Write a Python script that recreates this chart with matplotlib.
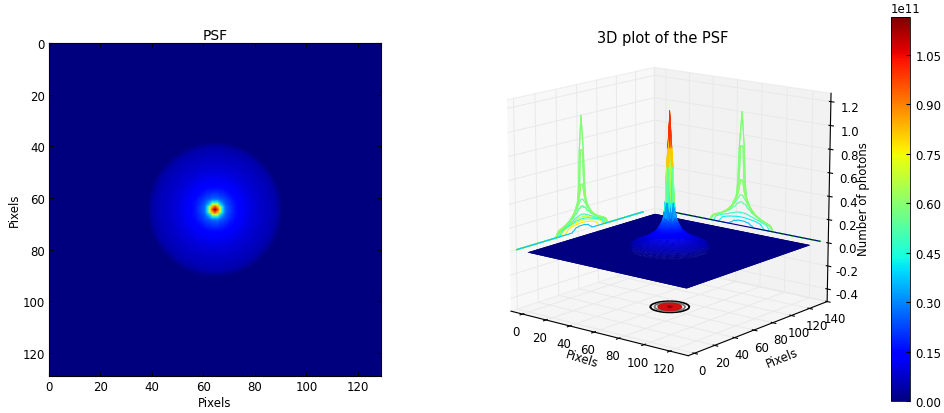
import numpy as np
import matplotlib
matplotlib.use("Agg")
from matplotlib import pyplot as plt
from matplotlib.ticker import FuncFormatter

# radial profile of the PSF, one value per half pixel of radius (units of 1e11 photons)
psf_profile = [1.165, 1.10, 1.00, 0.85, 0.70, 0.53, 0.40, 0.32, 0.27, 0.25,
               0.235, 0.22, 0.21, 0.195, 0.185, 0.175, 0.163, 0.156, 0.15, 0.144,
               0.138, 0.132, 0.126, 0.12, 0.116, 0.113, 0.108, 0.104, 0.10, 0.097,
               0.094, 0.09, 0.086, 0.083, 0.08, 0.078, 0.076, 0.073, 0.071, 0.068,
               0.066, 0.064, 0.061, 0.059, 0.056, 0.054, 0.051, 0.048, 0.043, 0.036,
               0.026, 0.014, 0.0]
n_pixels = 129
center = 64

pixel_ticks = [0, 20, 40, 60, 80, 100, 120]
y3d_ticks = [0, 20, 40, 60, 80, 100, 120, 140]
z_ticks = [-0.4, -0.2, 0.0, 0.2, 0.4, 0.6, 0.8, 1.0, 1.2]
cbar_ticks = [0.0, 0.15, 0.30, 0.45, 0.60, 0.75, 0.90, 1.05]

left_hump_levels = [70.01, 76.01, 80.01, 84.01]
left_peak_levels = [50.01, 54.01, 58.01, 60.01, 61.01, 62.01, 63.01, 65.01, 66.01, 67.01]
left_base_level = [40.01]
right_hump_levels = [40.01, 46.01, 52.01]
right_peak_levels = [58.01, 60.01, 61.01, 62.01, 63.01, 65.01, 66.01, 67.01]
right_base_level = [0.01]
floor_levels = [0.113, 0.14, 0.175, 0.19, 0.21, 0.24, 0.28, 0.33, 0.4, 0.5, 0.6, 0.75, 0.9, 1.05]
floor_colors = ["black", "0.45", "#c01010", "#c81010", "#d01010", "#d01010", "#d01010",
                "#d01010", "#d01010", "#d01010", "#d01010", "#c01010", "#b00000", "#900000"]

plt.rcParams["font.family"] = "DejaVu Sans"
plt.rcParams["font.size"] = 8.5
plt.rcParams["xtick.direction"] = "in"
plt.rcParams["ytick.direction"] = "in"

xs = np.arange(n_pixels)
X, Y = np.meshgrid(xs, xs)
radius = np.rint(2 * np.hypot(X - center, Y - center)).astype(int)
radius = np.minimum(radius, len(psf_profile) - 1)
Z = np.array(psf_profile)[radius]
vmax = max(psf_profile)

fig = plt.figure(figsize=(9.45, 4.14), dpi=100)

# left image
ax = fig.add_axes([49 / 945, 1 - 377 / 414, 332 / 945, 333 / 414])
im = ax.imshow(Z * 1e11, cmap="jet", vmin=0, vmax=vmax * 1e11, interpolation="bilinear",
               extent=(0, n_pixels, n_pixels, 0), aspect="auto")
ax.set_xticks(pixel_ticks)
ax.set_yticks(pixel_ticks)
ax.tick_params(top=True, right=True, length=3, pad=3)
ax.set_title("PSF", fontsize=10, pad=3)
ax.set_xlabel("Pixels", labelpad=2)
ax.set_ylabel("Pixels", labelpad=1)

# 3D plot
ax3 = fig.add_axes([450 / 945, 1 - 404 / 414, 430 / 945, 390 / 414], projection="3d",
                   computed_zorder=False)
ax3.view_init(elev=14, azim=-51)
ax3.set_box_aspect((4, 4, 3.8), zoom=0.965)

ax3.contour(X, Y, Z, zdir="z", offset=-0.5, levels=floor_levels, colors=floor_colors,
            linewidths=1.2, zorder=1)
# walls: slices of the surface, flat base line goes on top of the others
for levels, z in [(left_hump_levels, 2), (left_peak_levels, 3), (left_base_level, 4)]:
    ax3.contour(X, Y, Z, zdir="x", offset=-10, levels=levels, cmap="jet",
                vmin=0, vmax=128, linewidths=0.8, zorder=z)
for levels, z in [(right_hump_levels, 2), (right_peak_levels, 3), (right_base_level, 4)]:
    ax3.contour(X, Y, Z, zdir="y", offset=140, levels=levels, cmap="jet",
                vmin=0, vmax=128, linewidths=0.8, zorder=z)
surf = ax3.plot_surface(X, Y, Z, cmap="jet", vmin=0, vmax=vmax, rstride=1, cstride=1,
                        linewidth=0.3, antialiased=True, shade=False, zorder=5)
surf.set_edgecolor("face")

ax3.set_xlim(-10, 134)
ax3.set_ylim(-6, 140)
ax3.set_zlim(-0.51, 1.27)
ax3.set_xticks(pixel_ticks)
ax3.set_yticks(y3d_ticks)
ax3.set_zticks(z_ticks)
ax3.zaxis.set_major_formatter(FuncFormatter(lambda v, p: "%.1f" % v))
ax3.tick_params(axis="both", pad=0, labelsize=8.5)
ax3.tick_params(axis="x", pad=-2)
ax3.tick_params(axis="y", pad=-2)
ax3.tick_params(axis="z", pad=1)

ax3.xaxis.set_rotate_label(False)
ax3.yaxis.set_rotate_label(False)
ax3.zaxis.set_rotate_label(False)
ax3.set_xlabel("Pixels", rotation=-17, labelpad=-7)
ax3.set_ylabel("Pixels", rotation=22, labelpad=-4)
ax3.set_zlabel("Number of photons", rotation=90, labelpad=-5)

ax3.xaxis.pane.set_facecolor((0.95, 0.95, 0.95, 0.6))
ax3.yaxis.pane.set_facecolor((0.90, 0.90, 0.90, 0.9))
ax3.zaxis.pane.set_facecolor((0.925, 0.925, 0.925, 0.6))
for a in [ax3.xaxis, ax3.yaxis, ax3.zaxis]:
    a.pane.set_edgecolor((0.9, 0.9, 0.9, 0.5))
    a._axinfo["grid"]["color"] = (0.915, 0.915, 0.915, 1)
    a._axinfo["grid"]["linewidth"] = 0.7
    a.line.set_color("black")
fig.text(663 / 945, 1 - 38 / 414, "3D plot of the PSF", fontsize=10.5, ha="center", va="center")

# colorbar
cax = fig.add_axes([891 / 945, 1 - 402 / 414, 19 / 945, 384 / 414])
cb = fig.colorbar(im, cax=cax)
cb.set_ticks([t * 1e11 for t in cbar_ticks])
cb.ax.yaxis.set_major_formatter(FuncFormatter(lambda v, p: "%.2f" % (v / 1e11)))
cb.ax.tick_params(length=3, direction="in", pad=4)
cb.outline.set_linewidth(0.6)
cb.ax.text(0.0, 1.004, "1e11", transform=cb.ax.transAxes, ha="left", va="bottom")

fig.savefig("out.png", dpi=100)
